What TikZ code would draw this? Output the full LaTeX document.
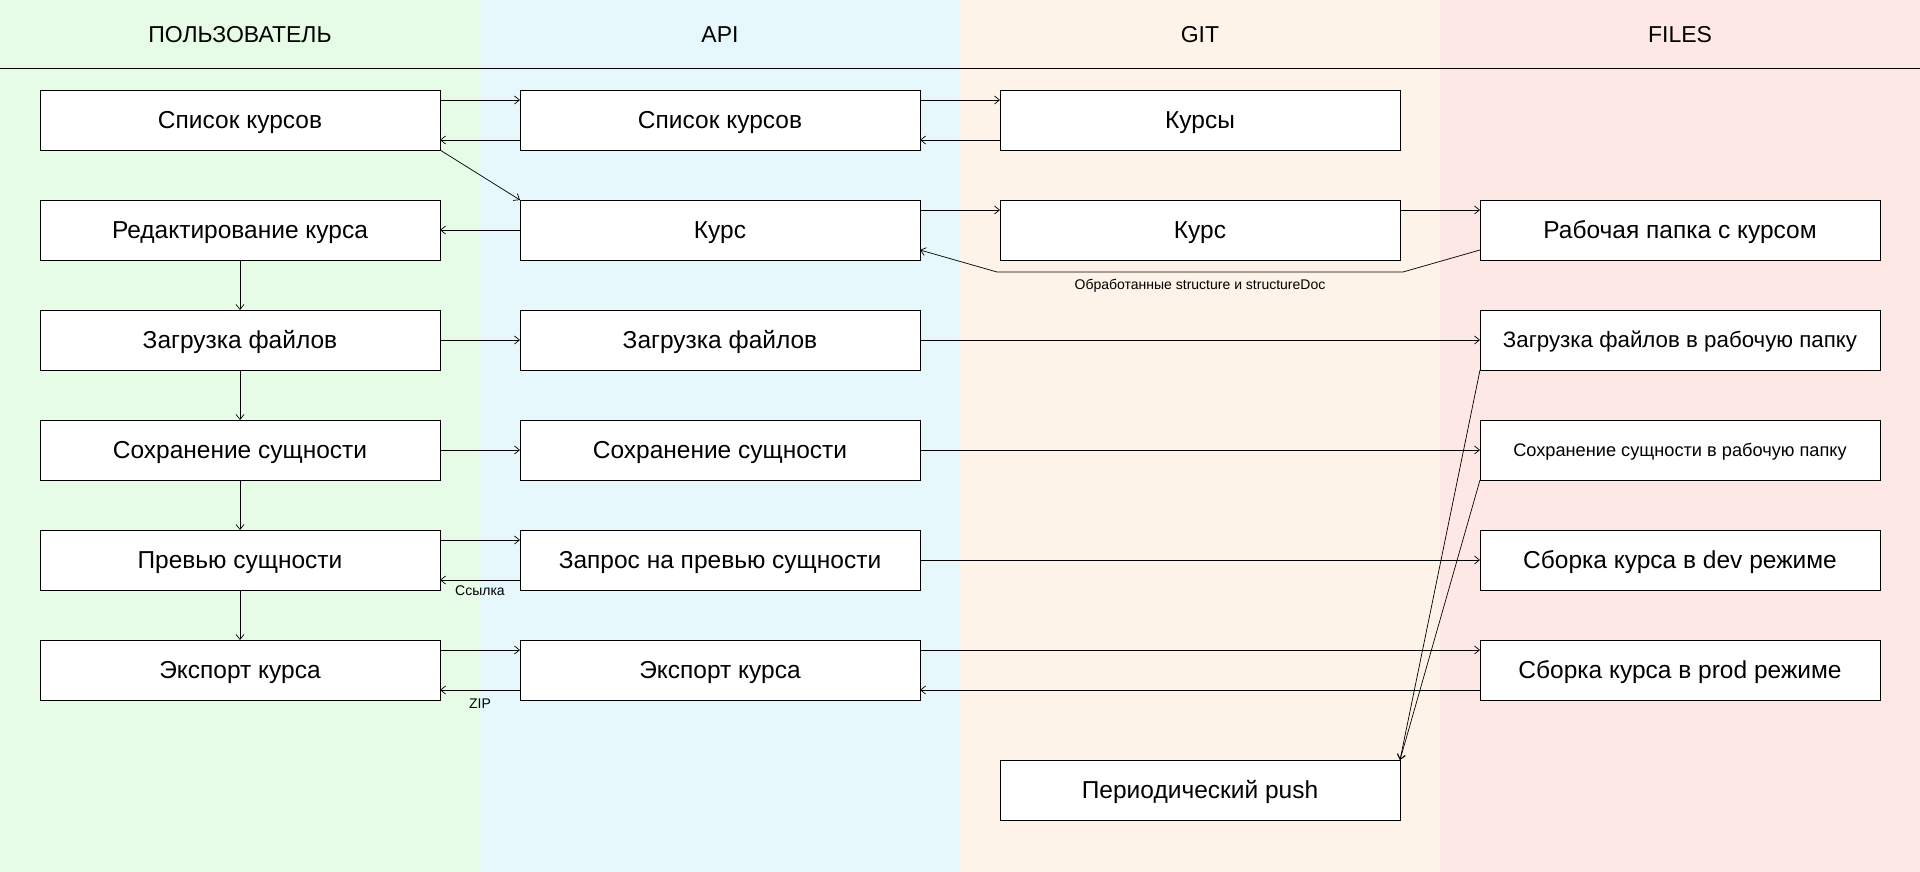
\documentclass[tikz,border=0pt]{standalone}
\usepackage{fontspec}
\setmainfont{Liberation Sans}
\usetikzlibrary{positioning,arrows.meta}
\definecolor{laneUser}{RGB}{230,252,230}
\definecolor{laneApi}{RGB}{231,248,253}
\definecolor{laneGit}{RGB}{253,243,232}
\definecolor{laneFiles}{RGB}{253,232,230}

\begin{document}
\begin{tikzpicture}[x = 1pt, y = -1pt, node distance = 50pt and 80pt,
    box/.style = { draw, fill = white, line width = .9pt, outer sep = 0pt, minimum width = 400pt, minimum height = 60pt, inner sep = 0pt, text height = 17pt, text depth = 0pt, font = \fontsize{24.5}{28}\selectfont },
    head/.style = { font = \fontsize{23}{27}\selectfont },
    lbl/.style = { font = \fontsize{14}{16}\selectfont, inner sep = 2pt },
    link/.style = { ->, line width = .7pt },
    > = { Straight Barb[length = 5pt, width = 8pt] }]
  \useasboundingbox (0,0) rectangle (1920,872);
  \fill[laneUser] (0,0) rectangle (480,872);
  \fill[laneApi] (480,0) rectangle (960,872);
  \fill[laneGit] (960,0) rectangle (1440,872);
  \fill[laneFiles] (1440,0) rectangle (1920,872);
  \draw[line width = .9pt] (0,68) -- (1920,68);
  \node[head] (hUser) at (240,35) { ПОЛЬЗОВАТЕЛЬ };
  \node[head] (hApi) at (720,35) { API };
  \node[head] (hGit) at (1200,35) { GIT };
  \node[head] (hFiles) at (1680,35) { FILES };

  \node[box] (uList) at (240,120) { Список курсов };
  \node[box] (uEdit) [below = of uList] { Редактирование курса };
  \node[box] (uUpload) [below = of uEdit] { Загрузка файлов };
  \node[box] (uSave) [below = of uUpload] { Сохранение сущности };
  \node[box] (uPreview) [below = of uSave] { Превью сущности };
  \node[box] (uExport) [below = of uPreview] { Экспорт курса };

  \node[box] (aList) [right = of uList] { Список курсов };
  \node[box] (aCourse) [right = of uEdit] { Курс };
  \node[box] (aUpload) [right = of uUpload] { Загрузка файлов };
  \node[box] (aSave) [right = of uSave] { Сохранение сущности };
  \node[box] (aPreview) [right = of uPreview] { Запрос на превью сущности };
  \node[box] (aExport) [right = of uExport] { Экспорт курса };

  \node[box] (gList) [right = of aList] { Курсы };
  \node[box] (gCourse) [right = of aCourse] { Курс };
  \node[box] (gPush) at (1200,790) { Периодический push };

  \node[box] (fDir) [right = of gCourse] { Рабочая папка с курсом };
  \node[box, font = \fontsize{22.3}{26}\selectfont, text height = 15.5pt] (fUpload) [below = of fDir] { Загрузка файлов в рабочую папку };
  \node[box, font = \fontsize{18.2}{22}\selectfont, text height = 12.8pt] (fSave) [below = of fUpload] { Сохранение сущности в рабочую папку };
  \node[box] (fDev) [below = of fSave] { Сборка курса в dev режиме };
  \node[box] (fProd) [below = of fDev] { Сборка курса в prod режиме };

  \draw[link] ([yshift = -10pt]uList.north east) -- ([yshift = -10pt]aList.north west);
  \draw[link] ([yshift = 10pt]aList.south west) -- ([yshift = 10pt]uList.south east);
  \draw[link] ([yshift = -10pt]aList.north east) -- ([yshift = -10pt]gList.north west);
  \draw[link] ([yshift = 10pt]gList.south west) -- ([yshift = 10pt]aList.south east);
  \draw[link] (uList.south east) -- (aCourse.north west);

  \draw[link] (aCourse) -- (uEdit);
  \draw[link] ([yshift = -10pt]aCourse.north east) -- ([yshift = -10pt]gCourse.north west);
  \draw[link] ([yshift = -10pt]gCourse.north east) -- ([yshift = -10pt]fDir.north west);
  \draw[link] ([yshift = 10pt]fDir.south west) -- (1403,272)
    -- node[lbl, below = 5pt] { Обработанные structure и structureDoc } (997,272)
    -- ([yshift = 10pt]aCourse.south east);

  \draw[link] (uEdit) -- (uUpload);
  \draw[link] (uUpload) -- (uSave);
  \draw[link] (uSave) -- (uPreview);
  \draw[link] (uPreview) -- (uExport);

  \draw[link] (uUpload) -- (aUpload);
  \draw[link] (aUpload) -- (fUpload);
  \draw[link] (uSave) -- (aSave);
  \draw[link] (aSave) -- (fSave);

  \draw[link] ([yshift = -10pt]uPreview.north east) -- ([yshift = -10pt]aPreview.north west);
  \draw[link] ([yshift = 10pt]aPreview.south west) -- node[lbl, below = 3pt] { Ссылка } ([yshift = 10pt]uPreview.south east);
  \draw[link] (aPreview) -- (fDev);

  \draw[link] ([yshift = -10pt]uExport.north east) -- ([yshift = -10pt]aExport.north west);
  \draw[link] ([yshift = 10pt]aExport.south west) -- node[lbl, below = 7pt] { ZIP } ([yshift = 10pt]uExport.south east);
  \draw[link] ([yshift = -10pt]aExport.north east) -- ([yshift = -10pt]fProd.north west);
  \draw[link] ([yshift = 10pt]fProd.south west) -- ([yshift = 10pt]aExport.south east);

  \draw[link] (fUpload.south west) -- (gPush.north east);
  \draw[link] (fSave.south west) -- (gPush.north east);
\end{tikzpicture}
\end{document}
